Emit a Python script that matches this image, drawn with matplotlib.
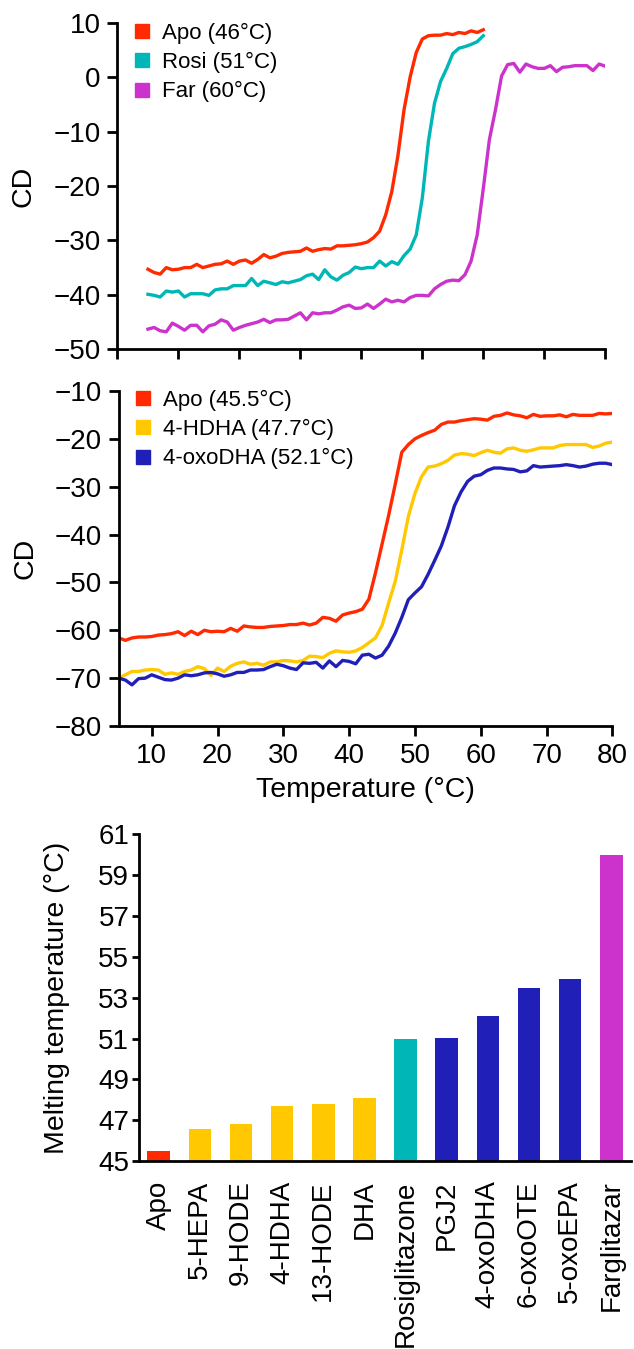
import matplotlib
matplotlib.use("Agg")
import matplotlib.pyplot as plt
from matplotlib.lines import Line2D

plt.rcParams['font.family'] = ['Liberation Sans', 'DejaVu Sans']

# ---- top panel: CD melting curves (Apo / Rosi / Far) ----
temp_short = list(range(5, 61))
temp_long = list(range(5, 81))

cd_apo_top = [-35.3, -35.9, -36.2, -35.0, -35.4, -35.3, -35.0, -35.0, -34.4, -35.0,
              -34.7, -34.4, -34.3, -33.8, -34.4, -33.8, -33.6, -34.2, -33.5, -32.6,
              -33.2, -32.9, -32.4, -32.2, -32.1, -32.0, -31.4, -32.0, -31.7, -31.5,
              -31.6, -31.0, -31.0, -30.9, -30.8, -30.6, -30.3, -29.5, -28.3, -25.3,
              -21.0, -14.4, -6.0, 0.0, 4.5, 7.0, 7.6, 7.7, 7.7, 8.0,
              7.8, 8.2, 8.0, 8.5, 8.2, 8.7]
cd_rosi = [-39.9, -40.1, -40.4, -39.3, -39.5, -39.3, -40.4, -39.8, -39.8, -39.8,
           -40.1, -39.1, -38.9, -38.9, -38.3, -38.3, -38.3, -37.0, -38.3, -37.5,
           -37.8, -38.1, -37.6, -37.8, -37.5, -37.2, -36.5, -36.2, -37.2, -35.4,
           -36.7, -37.3, -36.4, -35.9, -34.9, -35.2, -35.0, -35.0, -33.8, -34.7,
           -33.9, -34.4, -32.8, -31.6, -29.0, -22.2, -11.8, -4.8, -0.8, 1.6,
           4.3, 5.3, 5.6, 6.0, 6.5, 7.6]
cd_far = [-46.3, -46.0, -46.6, -46.8, -45.2, -45.8, -46.5, -45.6, -45.6, -46.8,
          -45.7, -45.4, -44.6, -45.0, -46.5, -46.0, -45.6, -45.3, -45.0, -44.5,
          -45.1, -44.6, -44.6, -44.5, -43.9, -43.3, -44.6, -43.3, -43.5, -43.3,
          -43.3, -42.8, -42.2, -41.9, -42.5, -42.4, -41.7, -42.5, -41.7, -40.8,
          -41.3, -41.0, -41.3, -40.5, -40.1, -40.1, -40.2, -38.9, -38.1, -37.5,
          -37.3, -37.4, -36.3, -33.8, -29.0, -20.5, -11.5, -6.0, 0.2, 2.3,
          2.5, 0.9, 2.4, 1.9, 1.6, 1.6, 2.1, 1.0, 1.8, 1.9,
          2.1, 2.1, 2.1, 1.2, 2.4, 2.0]

# ---- middle panel: CD melting curves (Apo / 4-HDHA / 4-oxoDHA) ----
cd_apo_mid = [-61.6, -62.1, -61.6, -61.4, -61.4, -61.3, -61.0, -60.9, -60.7, -60.3,
              -61.1, -60.2, -60.9, -60.0, -60.3, -60.2, -60.3, -59.6, -60.2, -59.1,
              -59.3, -59.4, -59.4, -59.2, -59.1, -59.0, -58.8, -58.8, -58.5, -58.9,
              -58.5, -57.3, -57.5, -58.1, -56.8, -56.4, -56.1, -55.6, -53.5, -48.0,
              -42.0, -36.0, -29.5, -22.8, -21.2, -20.0, -19.3, -18.7, -18.2, -17.0,
              -16.5, -16.5, -16.2, -16.0, -15.8, -15.9, -16.1, -15.3, -15.1, -14.6,
              -15.0, -15.2, -15.6, -14.9, -15.3, -15.2, -15.2, -15.0, -15.4, -14.9,
              -15.1, -15.1, -15.1, -14.7, -14.8, -14.7]
cd_hdha = [-70.0, -69.3, -68.6, -68.6, -68.3, -68.2, -68.3, -69.2, -68.9, -69.2,
           -68.6, -68.3, -67.6, -68.0, -69.4, -67.9, -68.6, -67.5, -66.9, -66.6,
           -67.1, -66.9, -67.3, -66.6, -66.6, -66.3, -66.4, -66.6, -66.3, -65.4,
           -65.5, -65.7, -64.8, -64.3, -64.5, -64.6, -64.3, -63.6, -62.6, -61.6,
           -59.0, -54.3, -49.8, -43.2, -36.2, -31.4, -27.9, -25.9, -25.7, -25.2,
           -24.5, -23.4, -23.1, -23.2, -23.5, -22.9, -22.4, -22.8, -23.0, -22.1,
           -21.9, -22.4, -22.6, -22.3, -21.9, -21.9, -21.9, -21.4, -21.2, -21.2,
           -21.2, -21.2, -21.8, -21.5, -20.9, -20.7]
cd_oxodha = [-70.0, -70.4, -71.4, -70.1, -70.0, -69.3, -69.8, -70.3, -70.4, -70.0,
             -69.3, -69.5, -69.3, -68.9, -68.8, -69.1, -69.6, -69.3, -68.8, -68.8,
             -68.3, -68.3, -68.2, -67.6, -67.1, -67.4, -67.9, -68.2, -66.8, -66.9,
             -66.7, -67.9, -66.4, -67.6, -66.3, -66.5, -67.0, -65.2, -65.0, -65.8,
             -65.2, -63.3, -60.6, -57.3, -53.6, -52.2, -50.9, -48.3, -45.4, -42.4,
             -38.5, -34.0, -31.1, -28.9, -27.8, -27.5, -26.6, -26.1, -26.1, -26.3,
             -26.4, -26.9, -26.7, -25.6, -25.9, -25.8, -25.7, -25.6, -25.4, -25.6,
             -25.9, -25.7, -25.3, -25.1, -25.1, -25.4]

top_labels = ['Apo (46°C)', 'Rosi (51°C)', 'Far (60°C)']
mid_labels = ['Apo (45.5°C)', '4-HDHA (47.7°C)', '4-oxoDHA (52.1°C)']

# ---- bottom panel: melting temperatures ----
ligands = ['Apo', '5-HEPA', '9-HODE', '4-HDHA', '13-HODE', 'DHA', 'Rosiglitazone',
           'PGJ2', '4-oxoDHA', '6-oxoOTE', '5-oxoEPA', 'Farglitazar']
tm = [45.5, 46.55, 46.8, 47.7, 47.8, 48.1, 51.0, 51.05, 52.1, 53.5, 53.9, 60.0]

RED = '#FF2A00'
TEAL = '#00B6B6'
MAGENTA = '#CC33CC'
YELLOW = '#FFC800'
BLUE = '#2020B8'
bar_colors = [RED] + [YELLOW] * 5 + [TEAL] + [BLUE] * 4 + [MAGENTA]

FS = 20
LW = 2.4


def style_axes(ax):
    for s in ['top', 'right']:
        ax.spines[s].set_visible(False)
    for s in ['left', 'bottom']:
        ax.spines[s].set_linewidth(2)
    ax.tick_params(direction='out', length=7, width=2, labelsize=FS, pad=5)


def add_legend(ax, colors, labels, anchor):
    handles = [Line2D([], [], ls='', marker='s', ms=10, color=c) for c in colors]
    ax.legend(handles, labels, loc='upper left', bbox_to_anchor=anchor,
              frameon=False, fontsize=16, handlelength=0.8, handletextpad=0.5,
              labelspacing=0.37, borderpad=0, borderaxespad=0)


fig = plt.figure(figsize=(6.34, 13.49), dpi=100)

# top
ax1 = fig.add_axes([0.1853, 0.7411, 0.7693, 0.2421])
ax1.plot(temp_short, cd_apo_top, color=RED, lw=LW)
ax1.plot(temp_short, cd_rosi, color=TEAL, lw=LW)
ax1.plot(temp_long, cd_far, color=MAGENTA, lw=LW)
ax1.set_xlim(0, 80)
ax1.set_ylim(-50, 10)
ax1.set_xticks(range(0, 81, 10))
ax1.set_xticklabels([])
ax1.set_yticks(range(-50, 11, 10))
style_axes(ax1)
ax1.set_ylabel('CD', fontsize=20.5, labelpad=12)
add_legend(ax1, [RED, TEAL, MAGENTA], top_labels, (0.033, 1.0))

# middle
ax2 = fig.add_axes([0.1874, 0.4618, 0.7785, 0.2484])
ax2.plot(temp_long, cd_apo_mid, color=RED, lw=LW)
ax2.plot(temp_long, cd_hdha, color=YELLOW, lw=LW)
ax2.plot(temp_long, cd_oxodha, color=BLUE, lw=LW)
ax2.set_xlim(5, 80)
ax2.set_ylim(-80, -10)
ax2.set_xticks(range(10, 81, 10))
ax2.set_yticks(range(-80, -9, 10))
style_axes(ax2)
ax2.set_ylabel('CD', fontsize=20.5, labelpad=12)
ax2.set_xlabel('Temperature (°C)', fontsize=20.5, labelpad=6)
add_legend(ax2, [RED, YELLOW, BLUE], mid_labels, (0.032, 1.004))

# bottom
ax3 = fig.add_axes([0.2192, 0.1394, 0.7761, 0.2420])
xs = range(len(ligands))
ax3.bar(xs, tm, width=0.55, color=bar_colors)
ax3.set_xlim(-0.48, len(ligands) - 1 + 0.48)
ax3.set_ylim(45, 61)
ax3.set_yticks(range(45, 62, 2))
ax3.set_xticks(list(xs))
ax3.set_xticklabels(ligands, rotation=90)
style_axes(ax3)
ax3.tick_params(axis='x', length=0, pad=14)
ax3.tick_params(axis='y', length=5, pad=2)
ax3.set_ylabel('Melting temperature (°C)', fontsize=20.5, labelpad=20)

fig.savefig('out.png', dpi=100)
